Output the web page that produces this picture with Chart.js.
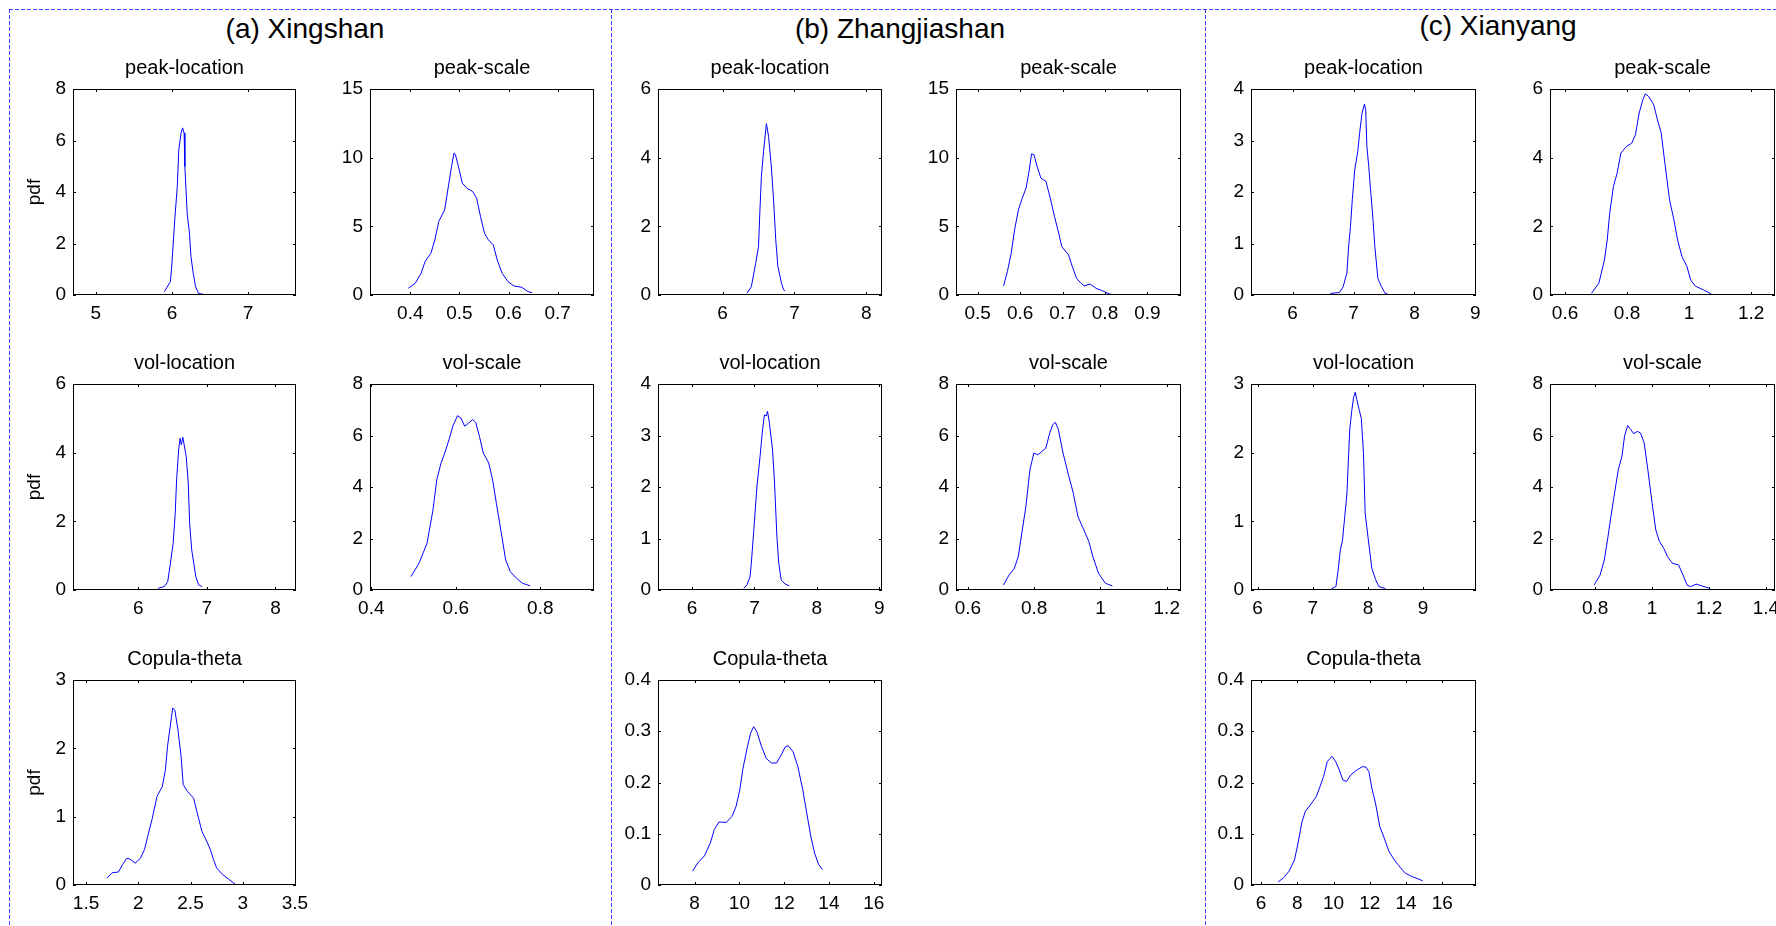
<!DOCTYPE html>
<html>
<head>
<meta charset="utf-8">
<title>Posterior pdf of parameters</title>
<script src="https://cdn.jsdelivr.net/npm/chart.js@4.4.0/dist/chart.umd.min.js"></script>
<style>
  html, body { margin: 0; padding: 0; background: #fff; }
  body { position: relative; width: 1776px; height: 926px; overflow: hidden;
         font-family: 'Liberation Sans', Arial, Helvetica, sans-serif; }
  canvas { position: absolute; }
  .station { position: absolute; font-size: 28px; line-height: 28px; white-space: nowrap;
             transform: translateX(-50%); color: #000; }
  .vline { position: absolute; width: 1px; top: 9px; height: 917px;
           background: repeating-linear-gradient(to bottom, #3d3dff 0 4px, transparent 4px 6px); }
  .hline { position: absolute; height: 1px;
           background: repeating-linear-gradient(to right, #3d3dff 0 4px, transparent 4px 6px); }
</style>
</head>
<body>
<div class="hline" style="left:9px; top:9px; width:1767px"></div>
<div class="vline" style="left:9px"></div>
<div class="vline" style="left:611px"></div>
<div class="vline" style="left:1205px"></div>
<div class="station" style="left:305px; top:15px">(a) Xingshan</div>
<div class="station" style="left:900px; top:15px">(b) Zhangjiashan</div>
<div class="station" style="left:1498px; top:12px">(c) Xianyang</div>

<script>
// subplot order: peak-location, peak-scale, vol-location, vol-scale, Copula-theta
const subplotTitles = ['peak-location', 'peak-scale', 'vol-location', 'vol-scale', 'Copula-theta'];

// ---- (a) Xingshan : [x, pdf] pairs
const xingshanPeakLoc = [[5.90,0.13],[5.98,0.52],[6.00,1.23],[6.02,2.14],[6.04,3.05],[6.07,4.2],[6.09,5.64],[6.12,6.29],[6.14,6.49],[6.16,6.29],[6.17,4.99],[6.20,3.18],[6.23,2.4],[6.25,1.49],[6.28,0.84],[6.31,0.32],[6.35,0.06],[6.41,0.03]];
const xingshanPeakScale = [[0.396,0.49],[0.41,0.85],[0.422,1.58],[0.43,2.43],[0.442,3.04],[0.45,4.01],[0.458,5.35],[0.47,6.2],[0.478,8.02],[0.484,9.36],[0.489,10.33],[0.492,10.2],[0.498,9.36],[0.506,8.14],[0.515,7.78],[0.527,7.54],[0.535,7.05],[0.543,5.71],[0.551,4.5],[0.559,4.01],[0.569,3.65],[0.577,2.55],[0.587,1.58],[0.599,0.97],[0.611,0.66],[0.627,0.56],[0.64,0.24],[0.648,0.17]];
const xingshanVolLoc = [[6.29,0.05],[6.38,0.1],[6.43,0.24],[6.47,0.78],[6.51,1.36],[6.54,2.24],[6.56,3.21],[6.59,4.08],[6.61,4.42],[6.63,4.23],[6.65,4.45],[6.67,4.23],[6.70,3.89],[6.73,3.11],[6.75,1.94],[6.78,1.17],[6.81,0.78],[6.84,0.39],[6.88,0.15],[6.93,0.1]];
const xingshanVolScale = [[0.494,0.52],[0.513,1.04],[0.532,1.82],[0.546,3.11],[0.555,4.28],[0.565,4.93],[0.574,5.32],[0.584,5.84],[0.593,6.36],[0.604,6.77],[0.612,6.68],[0.621,6.36],[0.631,6.49],[0.64,6.62],[0.647,6.51],[0.656,5.97],[0.665,5.32],[0.678,4.93],[0.687,4.28],[0.696,3.37],[0.709,2.08],[0.718,1.17],[0.729,0.71],[0.744,0.45],[0.758,0.26],[0.776,0.16]];
const xingshanTheta = [[1.70,0.10],[1.75,0.18],[1.81,0.19],[1.85,0.30],[1.89,0.39],[1.92,0.38],[1.97,0.32],[2.02,0.39],[2.06,0.52],[2.09,0.71],[2.13,0.95],[2.18,1.30],[2.23,1.44],[2.26,1.69],[2.28,2.03],[2.31,2.37],[2.33,2.59],[2.35,2.56],[2.38,2.27],[2.41,1.88],[2.43,1.47],[2.47,1.37],[2.53,1.27],[2.56,1.08],[2.61,0.78],[2.64,0.69],[2.69,0.52],[2.72,0.37],[2.75,0.25],[2.81,0.15],[2.87,0.08],[2.93,0.01]];

const xingshanXRange = [[4.70, 7.63], [0.318, 0.774], [5.05, 8.30], [0.397, 0.927], [1.375, 3.51]];
const xingshanXTicks = [[5, 6, 7], [0.4, 0.5, 0.6, 0.7], [6, 7, 8], [0.4, 0.6, 0.8], [1.5, 2, 2.5, 3, 3.5]];
const xingshanYTicks = [[0, 2, 4, 6, 8], [0, 5, 10, 15], [0, 2, 4, 6], [0, 2, 4, 6, 8], [0, 1, 2, 3]];

// ---- (b) Zhangjiashan
const zhangPeakLoc = [[6.34,0.05],[6.40,0.24],[6.46,0.92],[6.50,1.41],[6.52,2.48],[6.54,3.45],[6.57,4.18],[6.61,4.99],[6.64,4.62],[6.68,3.70],[6.71,2.77],[6.74,1.61],[6.77,0.83],[6.82,0.34],[6.85,0.15],[6.87,0.12]];
const zhangPeakScale = [[0.561,0.66],[0.57,1.7],[0.579,3.04],[0.587,4.74],[0.596,6.2],[0.605,7.05],[0.614,7.78],[0.621,9.0],[0.627,10.28],[0.633,10.2],[0.64,9.36],[0.649,8.51],[0.661,8.27],[0.672,6.93],[0.681,5.71],[0.691,4.5],[0.698,3.53],[0.714,2.92],[0.723,2.07],[0.733,1.22],[0.742,0.9],[0.751,0.66],[0.765,0.80],[0.779,0.49],[0.793,0.32],[0.807,0.12],[0.816,0.02]];
const zhangVolLoc = [[6.83,0.03],[6.88,0.1],[6.93,0.26],[6.95,0.52],[6.99,1.17],[7.04,2.01],[7.09,2.59],[7.13,3.11],[7.16,3.4],[7.19,3.38],[7.21,3.47],[7.24,3.24],[7.29,2.72],[7.32,2.14],[7.36,1.04],[7.39,0.52],[7.43,0.19],[7.49,0.12],[7.56,0.08]];
const zhangVolScale = [[0.707,0.19],[0.724,0.58],[0.74,0.84],[0.752,1.3],[0.764,2.33],[0.775,3.24],[0.787,4.67],[0.799,5.32],[0.811,5.25],[0.823,5.38],[0.835,5.51],[0.847,6.1],[0.856,6.42],[0.864,6.51],[0.873,6.23],[0.887,5.32],[0.902,4.54],[0.918,3.76],[0.932,2.85],[0.95,2.33],[0.965,1.88],[0.977,1.3],[0.994,0.65],[1.015,0.26],[1.036,0.16]];
const zhangTheta = [[7.91,0.027],[8.14,0.043],[8.44,0.057],[8.70,0.082],[8.88,0.108],[9.09,0.123],[9.41,0.122],[9.67,0.134],[9.85,0.153],[10.02,0.186],[10.15,0.225],[10.33,0.264],[10.50,0.296],[10.64,0.309],[10.78,0.299],[10.99,0.27],[11.20,0.247],[11.43,0.238],[11.66,0.238],[11.87,0.254],[12.04,0.269],[12.18,0.272],[12.40,0.26],[12.61,0.231],[12.83,0.186],[13.01,0.140],[13.19,0.095],[13.36,0.062],[13.54,0.040],[13.71,0.030]];

const zhangXRange = [[5.10, 8.22], [0.449, 0.979], [5.454, 9.045], [0.564, 1.243], [6.365, 16.37]];
const zhangXTicks = [[6, 7, 8], [0.5, 0.6, 0.7, 0.8, 0.9], [6, 7, 8, 9], [0.6, 0.8, 1, 1.2], [8, 10, 12, 14, 16]];
const zhangYTicks = [[0, 2, 4, 6], [0, 5, 10, 15], [0, 1, 2, 3, 4], [0, 2, 4, 6, 8], [0, 0.1, 0.2, 0.3, 0.4]];

// ---- (c) Xianyang
const xianyangPeakLoc = [[6.62,0.03],[6.77,0.05],[6.83,0.16],[6.89,0.42],[6.92,0.94],[6.95,1.33],[6.98,1.85],[7.02,2.43],[7.07,2.79],[7.10,3.14],[7.14,3.53],[7.18,3.71],[7.20,3.6],[7.22,2.88],[7.25,2.5],[7.28,2.04],[7.32,1.46],[7.35,0.94],[7.40,0.32],[7.46,0.16],[7.52,0.03],[7.56,0.02]];
const xianyangPeakScale = [[0.685,0.05],[0.709,0.34],[0.727,1.02],[0.736,1.6],[0.744,2.38],[0.756,3.16],[0.768,3.55],[0.78,4.13],[0.798,4.33],[0.815,4.42],[0.827,4.67],[0.839,5.3],[0.851,5.69],[0.859,5.86],[0.869,5.79],[0.886,5.54],[0.898,5.1],[0.91,4.72],[0.922,3.84],[0.937,2.77],[0.951,2.19],[0.963,1.6],[0.977,1.12],[0.993,0.83],[1.005,0.44],[1.02,0.26],[1.046,0.15],[1.072,0.03]];
const xianyangVolLoc = [[7.34,0.02],[7.42,0.05],[7.46,0.29],[7.50,0.58],[7.54,0.73],[7.58,1.07],[7.62,1.41],[7.67,2.33],[7.71,2.63],[7.74,2.80],[7.77,2.88],[7.80,2.77],[7.84,2.63],[7.88,2.50],[7.92,1.99],[7.95,1.12],[8.00,0.78],[8.07,0.32],[8.14,0.15],[8.20,0.05],[8.32,0.02]];
const xianyangVolScale = [[0.796,0.19],[0.817,0.58],[0.832,1.17],[0.845,2.08],[0.855,2.85],[0.868,3.76],[0.881,4.67],[0.894,5.19],[0.903,5.97],[0.914,6.39],[0.925,6.23],[0.935,6.07],[0.948,6.16],[0.959,6.1],[0.972,5.71],[0.985,4.67],[1.0,3.37],[1.013,2.33],[1.026,1.88],[1.041,1.62],[1.054,1.3],[1.071,1.04],[1.093,0.97],[1.106,0.65],[1.123,0.19],[1.135,0.13],[1.155,0.23],[1.174,0.16],[1.204,0.06]];
const xianyangTheta = [[6.94,0.006],[7.24,0.014],[7.54,0.027],[7.84,0.049],[8.04,0.082],[8.24,0.121],[8.44,0.144],[8.71,0.156],[9.05,0.173],[9.25,0.192],[9.45,0.212],[9.65,0.241],[9.91,0.251],[10.11,0.241],[10.31,0.225],[10.51,0.205],[10.71,0.202],[10.95,0.215],[11.31,0.225],[11.59,0.231],[11.79,0.230],[11.95,0.221],[12.11,0.189],[12.31,0.160],[12.55,0.114],[12.79,0.092],[13.05,0.066],[13.35,0.049],[13.66,0.035],[13.96,0.023],[14.36,0.016],[14.66,0.012],[14.92,0.008]];

const xianyangXRange = [[5.318, 9.01], [0.5515, 1.277], [5.88, 9.96], [0.641, 1.432], [5.44, 17.86]];
const xianyangXTicks = [[6, 7, 8, 9], [0.6, 0.8, 1, 1.2], [6, 7, 8, 9], [0.8, 1, 1.2, 1.4], [6, 8, 10, 12, 14, 16]];
const xianyangYTicks = [[0, 1, 2, 3, 4], [0, 2, 4, 6], [0, 1, 2, 3], [0, 2, 4, 6, 8], [0, 0.1, 0.2, 0.3, 0.4]];

// page layout (plot box positions in px)
const colLeft = [[73, 370], [658, 956], [1251, 1550]];
const colWidth = [[223, 224], [224, 225], [225, 225]];
const rowTop = [89, 384, 680];
const rowHeight = [206, 206, 205];
const titleBlock = 33;   // subplot title height above the box
const xAxisBlock = 40;   // tick label area below the box

Chart.defaults.font.family = "'Liberation Sans', Arial, Helvetica, sans-serif";
Chart.defaults.color = '#000';

// MATLAB-style box with inward ticks on all four sides
const boxPlugin = {
  id: 'matlabBox',
  afterDraw(chart) {
    const { ctx, chartArea: a, scales: { x, y } } = chart;
    ctx.save();
    ctx.strokeStyle = '#000';
    ctx.lineWidth = 1;
    ctx.strokeRect(a.left + 0.5, a.top + 0.5, a.width - 1, a.height - 1);
    ctx.beginPath();
    x.ticks.forEach(t => {
      const px = Math.round(x.getPixelForValue(t.value)) + 0.5;
      ctx.moveTo(px, a.bottom); ctx.lineTo(px, a.bottom - 3);
      ctx.moveTo(px, a.top); ctx.lineTo(px, a.top + 3);
    });
    y.ticks.forEach(t => {
      const py = Math.round(y.getPixelForValue(t.value)) + 0.5;
      ctx.moveTo(a.left, py); ctx.lineTo(a.left + 3, py);
      ctx.moveTo(a.right, py); ctx.lineTo(a.right - 3, py);
    });
    ctx.stroke();
    ctx.restore();
  }
};

function makePlot(panel, idx, points, xRange, xTicks, yTicks) {
  const row = Math.floor(idx / 2), col = idx % 2;
  const showPdf = panel === 0 && col === 0;
  const side = showPdf ? 73 : 60;
  const w = colWidth[panel][col], h = rowHeight[row];

  const canvas = document.createElement('canvas');
  canvas.width = side * 2 + w;
  canvas.height = titleBlock + h + xAxisBlock;
  canvas.style.left = (colLeft[panel][col] - side) + 'px';
  canvas.style.top = (rowTop[row] - titleBlock) + 'px';
  document.body.appendChild(canvas);

  const tickFont = { size: 19 };
  new Chart(canvas, {
    type: 'scatter',
    data: {
      datasets: [{
        data: points.map(p => ({ x: p[0], y: p[1] })),
        showLine: true,
        borderColor: '#0000ff',
        borderWidth: 1,
        pointRadius: 0,
        tension: 0
      }]
    },
    options: {
      responsive: false,
      animation: false,
      events: [],
      layout: { padding: { left: 0, right: side, top: 0, bottom: 0 } },
      plugins: {
        legend: { display: false },
        tooltip: { enabled: false },
        title: {
          display: true,
          fullSize: false,   // centre over the plot box, not the canvas
          text: subplotTitles[idx],
          font: { size: 20, weight: 'normal' },
          color: '#000',
          padding: { top: 0, bottom: 9 }
        }
      },
      scales: {
        x: {
          type: 'linear',
          min: xRange[0],
          max: xRange[1],
          grid: { display: false, drawTicks: false },
          border: { display: false },
          ticks: { font: tickFont, color: '#000', padding: 7, maxRotation: 0, autoSkip: false,
                   callback: v => String(v) },
          afterBuildTicks: s => { s.ticks = xTicks.map(v => ({ value: v })); },
          afterFit: s => { s.height = xAxisBlock; }
        },
        y: {
          type: 'linear',
          min: yTicks[0],
          max: yTicks[yTicks.length - 1],
          grid: { display: false, drawTicks: false },
          border: { display: false },
          ticks: { font: tickFont, color: '#000', padding: 7, autoSkip: false,
                   callback: v => String(v) },
          title: {
            display: showPdf,
            text: 'pdf',
            font: { size: 19 },
            color: '#000',
            padding: { top: 23, bottom: 0 }
          },
          afterBuildTicks: s => { s.ticks = yTicks.map(v => ({ value: v })); },
          afterFit: s => { s.width = side; }
        }
      }
    },
    plugins: [boxPlugin]
  });
}

const xingshanCurves = [xingshanPeakLoc, xingshanPeakScale, xingshanVolLoc, xingshanVolScale, xingshanTheta];
const zhangCurves = [zhangPeakLoc, zhangPeakScale, zhangVolLoc, zhangVolScale, zhangTheta];
const xianyangCurves = [xianyangPeakLoc, xianyangPeakScale, xianyangVolLoc, xianyangVolScale, xianyangTheta];

xingshanCurves.forEach((c, i) => makePlot(0, i, c, xingshanXRange[i], xingshanXTicks[i], xingshanYTicks[i]));
zhangCurves.forEach((c, i) => makePlot(1, i, c, zhangXRange[i], zhangXTicks[i], zhangYTicks[i]));
xianyangCurves.forEach((c, i) => makePlot(2, i, c, xianyangXRange[i], xianyangXTicks[i], xianyangYTicks[i]));
</script>
</body>
</html>
